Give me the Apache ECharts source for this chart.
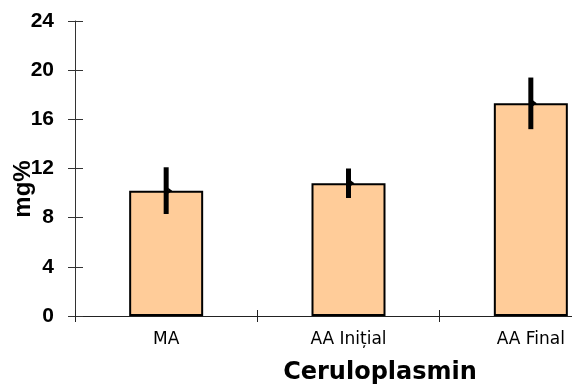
<!DOCTYPE html>
<html>
<head>
<meta charset="utf-8">
<script src="https://cdn.jsdelivr.net/npm/echarts@6/dist/echarts.min.js"></script>
<style>
  html, body { margin: 0; padding: 0; background: #fff; }
  #chart { width: 572px; height: 390px; }
</style>
</head>
<body>
<div id="chart"></div>
<script>
var categories = ['MA', 'AA Inițial', 'AA Final'];
var means = [10.2, 10.8, 17.3];
var errors = [1.9, 1.2, 2.1];
var yTicks = [0, 4, 8, 12, 16, 20, 24];

var dom = document.getElementById('chart');
var myChart = echarts.init(dom);

var errData = means.map(function (m, i) {
    return [i, m, errors[i]];
});

// error bar + small marker at the mean
function renderErr(params, api) {
    var i = api.value(0);
    var m = api.value(1);
    var e = api.value(2);
    var hi = api.coord([i, m + e]);
    var lo = api.coord([i, m - e]);
    var mid = api.coord([i, m]);
    return {
        type: 'group',
        children: [
            {
                type: 'rect',
                shape: { x: hi[0] - 2.5, y: hi[1], width: 5, height: lo[1] - hi[1] },
                style: { fill: '#000' }
            },
            {
                type: 'polygon',
                shape: { points: [[mid[0] + 2, mid[1] - 3], [mid[0] + 6, mid[1]], [mid[0] + 2, mid[1] + 3]] },
                style: { fill: '#000' }
            }
        ]
    };
}

var option = {
    backgroundColor: '#fff',
    animation: false,
    grid: { left: 75, top: 21, width: 547, height: 295, containLabel: false, outerBoundsMode: 'none' },
    xAxis: [
        {
            type: 'category',
            data: categories,
            axisLine: { lineStyle: { color: '#222', width: 1 } },
            axisTick: { show: true, length: 6, inside: false, lineStyle: { color: '#222' } },
            axisLabel: {
                color: '#000',
                fontFamily: 'DejaVu Sans',
                fontSize: 17,
                margin: 15
            }
        },
        {
            type: 'category',
            data: categories,
            position: 'bottom',
            axisLine: { show: false },
            axisTick: { show: true, length: 6, inside: true, lineStyle: { color: '#222' } },
            axisLabel: { show: false }
        }
    ],
    yAxis: [
        {
            type: 'value',
            min: 0,
            max: 24,
            interval: 4,
            axisLine: { show: true, lineStyle: { color: '#333', width: 1 } },
            axisTick: { show: true, length: 7, lineStyle: { color: '#333' } },
            splitLine: { show: false },
            axisLabel: {
                color: '#000',
                fontFamily: 'Liberation Sans',
                fontWeight: 'bold',
                fontSize: 21,
                margin: 21,
                formatter: function (v) { return yTicks.indexOf(v) >= 0 ? String(v) : ''; }
            }
        },
        {
            type: 'value',
            min: 0,
            max: 24,
            interval: 4,
            position: 'left',
            axisLine: { show: false },
            axisTick: { show: true, inside: true, length: 8, lineStyle: { color: '#333' } },
            splitLine: { show: false },
            axisLabel: { show: false }
        }
    ],
    series: [
        {
            name: 'Ceruloplasmin',
            type: 'bar',
            data: means,
            barWidth: 74,
            itemStyle: { color: '#FFCC99', borderColor: '#000', borderWidth: 2 }
        },
        {
            type: 'custom',
            data: errData,
            renderItem: renderErr,
            z: 5
        }
    ],
    graphic: [
        {
            type: 'text',
            style: {
                text: 'Ceruloplasmin',
                x: 380,
                y: 373,
                align: 'center',
                verticalAlign: 'middle',
                fill: '#000',
                font: 'bold 24px "DejaVu Sans"'
            }
        },
        {
            type: 'text',
            rotation: Math.PI / 2,
            x: 23,
            y: 189,
            style: {
                text: 'mg%',
                x: 0,
                y: 0,
                align: 'center',
                verticalAlign: 'middle',
                fill: '#000',
                font: 'bold 24px "Liberation Sans"'
            }
        }
    ]
};

if (option && typeof option === 'object') {
    myChart.setOption(option, true);
}
window.onresize = function () {
    myChart.resize();
};
</script>
</body>
</html>
